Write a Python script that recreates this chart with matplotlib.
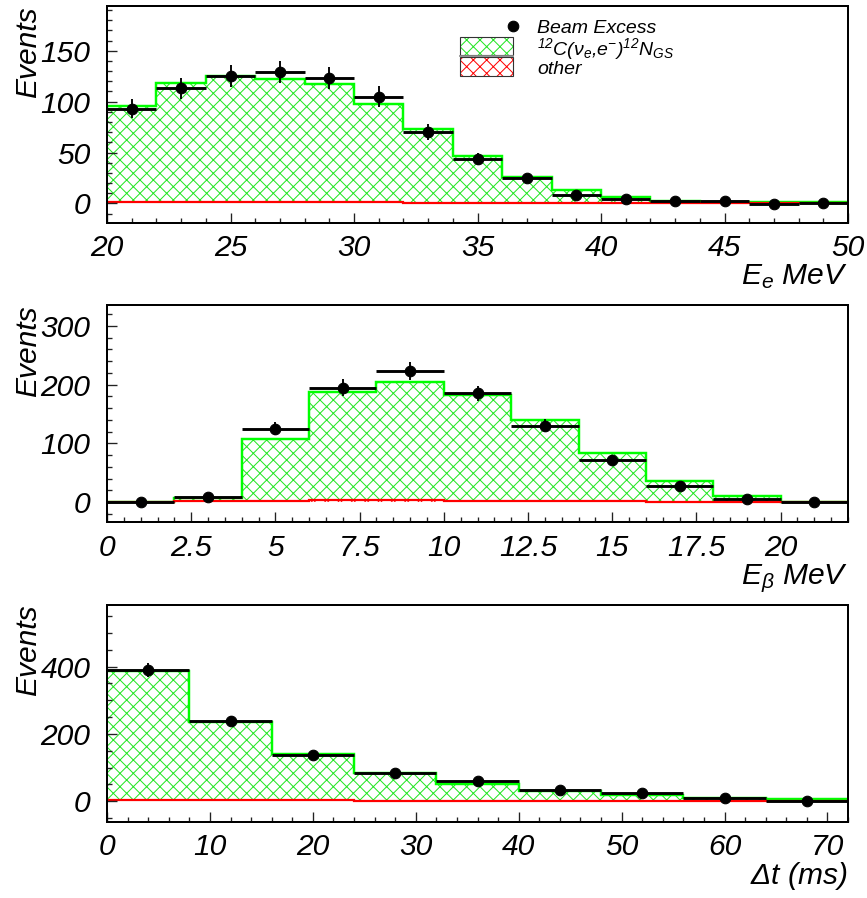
import numpy as np
import matplotlib
matplotlib.use("Agg")
import matplotlib.pyplot as plt
from matplotlib.patches import Rectangle
from matplotlib.ticker import MultipleLocator
from matplotlib.lines import Line2D

# ---------------- data ----------------
# Panel 1: E_e (MeV)
ee_edges = np.arange(20, 51, 2)
ee_data = [93, 113, 125, 129, 123, 105, 70, 44, 25, 8, 4, 2, 2, -1, 0]
ee_err = [9.5, 10, 11, 11, 11, 10, 8, 6, 4, 3, 2, 2, 2, 1.5, 1.5]
ee_total = [96, 118, 125, 122, 117, 98, 73, 47, 26, 13.5, 6, 2.6, 1.6, 1, 1]
ee_other = [1.5, 1.5, 1.5, 1.5, 1.2, 1.0, 0.8, 0.6, 0.5, 0.4, 0.3, 0.2, 0.2, 0.1, 0.1]

# Panel 2: E_beta (MeV)
eb_edges = np.arange(0, 23, 2)
eb_data = [0, 9, 125, 195, 223, 185, 130, 72, 27, 5, 0]
eb_err = [0, 4, 11, 14, 15, 13, 11, 8, 5, 3, 0]
eb_total = [0, 7, 107, 187, 205, 183, 139, 84, 35, 11, 0]
eb_other = [0, 1, 2, 3, 3, 2, 1, 1, 0.5, 0.5, 0]

# Panel 3: delta t (ms)
dt_edges = np.arange(0, 73, 8)
dt_data = [390, 238, 138, 83, 59, 32, 24, 10, 2]
dt_err = [20, 15, 12, 10, 9, 8, 7, 6, 5]
dt_total = [387, 236, 139, 83, 51, 29, 19, 9, 6]
dt_other = [3, 3, 3, 2, 2, 2, 1, 1, 1]

panels = [
    dict(edges=ee_edges, data=ee_data, err=ee_err, total=ee_total, other=ee_other,
         ylim=(-19, 194), xlim=(20, 50), xmaj=5, xmin=1, ymaj=50, ymin=10,
         xlabel=r'$E_e$ MeV', legend=True),
    dict(edges=eb_edges, data=eb_data, err=eb_err, total=eb_total, other=eb_other,
         ylim=(-34.6, 335.8), xlim=(0, 22), xmaj=2.5, xmin=0.5, ymaj=100, ymin=20,
         xlabel=r'$E_{\mathsf{\beta}}$ MeV', legend=False),
    dict(edges=dt_edges, data=dt_data, err=dt_err, total=dt_total, other=dt_other,
         ylim=(-61, 584), xlim=(0, 72), xmaj=10, xmin=2, ymaj=200, ymin=50,
         xlabel=r'$\mathsf{\Delta}$t (ms)', legend=False),
]

# ---------------- style ----------------
plt.rcParams['font.family'] = ['Liberation Sans', 'DejaVu Sans']
plt.rcParams['font.style'] = 'italic'
plt.rcParams['mathtext.fontset'] = 'custom'
plt.rcParams['mathtext.it'] = 'Liberation Sans:italic'
plt.rcParams['mathtext.rm'] = 'Liberation Sans:italic'
plt.rcParams['mathtext.sf'] = 'Liberation Sans'
plt.rcParams['mathtext.default'] = 'it'
plt.rcParams['hatch.linewidth'] = 0.9

GREEN = '#00ff00'
HGREEN = '#22e622'
RED = '#ff0000'

DPI = 80
W, H = 867, 898
fig = plt.figure(figsize=(W / DPI, H / DPI), dpi=DPI)

rects = [(107, 6, 848, 222.7), (107, 305, 848, 522.3), (107, 604.7, 848, 821.7)]

for p, (x0, y0, x1, y1) in zip(panels, rects):
    ax = fig.add_axes([x0 / W, 1 - y1 / H, (x1 - x0) / W, (y1 - y0) / H])
    edges = np.asarray(p['edges'], float)
    total = np.asarray(p['total'], float)
    other = np.asarray(p['other'], float)
    data = np.asarray(p['data'], float)
    err = np.asarray(p['err'], float)
    centers = 0.5 * (edges[:-1] + edges[1:])
    halfw = 0.5 * (edges[1:] - edges[:-1])

    # signal (green hatched) stacked on other (red hatched)
    ax.stairs(total, edges, baseline=other, fill=True, facecolor='none',
              edgecolor=HGREEN, hatch='xx', linewidth=0)
    ax.stairs(other, edges, baseline=0, fill=True, facecolor='none',
              edgecolor=RED, hatch='xx', linewidth=0)
    ax.stairs(total, edges, baseline=None, color=GREEN, linewidth=2.2)
    ax.stairs(other, edges, baseline=None, color=RED, linewidth=2.0)

    # data
    ax.errorbar(centers, data, xerr=halfw, fmt='none', ecolor='black',
                elinewidth=2.6, capsize=0, zorder=5)
    ax.errorbar(centers, data, yerr=err, fmt='o', color='black', ms=9.5,
                elinewidth=1.7, capsize=0, zorder=6)

    ax.set_xlim(*p['xlim'])
    ax.set_ylim(*p['ylim'])
    ax.xaxis.set_major_locator(MultipleLocator(p['xmaj']))
    ax.xaxis.set_minor_locator(MultipleLocator(p['xmin']))
    ax.yaxis.set_major_locator(MultipleLocator(p['ymaj']))
    ax.yaxis.set_minor_locator(MultipleLocator(p['ymin']))
    ax.tick_params(which='both', direction='in', top=False, right=False,
                   width=1.2, color='#222222')
    ax.tick_params(which='major', length=9)
    ax.tick_params(which='minor', length=4.5)
    ax.tick_params(axis='x', which='major', pad=10.5, labelsize=27)
    ax.tick_params(axis='y', which='major', pad=15, labelsize=27)
    ax.xaxis.set_major_formatter(matplotlib.ticker.FuncFormatter(
        lambda v, pos: ('%g' % v)))
    for s in ax.spines.values():
        s.set_linewidth(1.8)

    ax.set_ylabel('Events', fontsize=27, loc='top')
    ax.yaxis.set_label_coords(-0.088, 1.0)
    ax.text(1.0, -62 / (y1 - y0), p['xlabel'], transform=ax.transAxes,
            ha='right', va='baseline', fontsize=27)

    if p['legend']:
        h = y1 - y0
        w = x1 - x0
        fx = lambda px: (px - x0) / w
        fy = lambda py: 1 - (py - y0) / h
        # green box
        ax.add_patch(Rectangle((fx(460), fy(55)), fx(513) - fx(460), fy(37) - fy(55),
                               transform=ax.transAxes, facecolor='white',
                               edgecolor=HGREEN, hatch='xx', linewidth=0,
                               clip_on=False, zorder=7))
        ax.add_patch(Rectangle((fx(460), fy(55)), fx(513) - fx(460), fy(37) - fy(55),
                               transform=ax.transAxes, facecolor='none',
                               edgecolor='#333333', linewidth=1.0,
                               clip_on=False, zorder=8))
        ax.add_patch(Rectangle((fx(460), fy(75.7)), fx(513) - fx(460), fy(56.7) - fy(75.7),
                               transform=ax.transAxes, facecolor='white',
                               edgecolor=RED, hatch='xx', linewidth=0,
                               clip_on=False, zorder=7))
        ax.add_patch(Rectangle((fx(460), fy(75.7)), fx(513) - fx(460), fy(56.7) - fy(75.7),
                               transform=ax.transAxes, facecolor='none',
                               edgecolor='#333333', linewidth=1.0,
                               clip_on=False, zorder=8))
        ax.add_line(Line2D([fx(460), fx(513)], [fy(55.9), fy(55.9)],
                           transform=ax.transAxes, color='#888888', linewidth=1.6,
                           zorder=8))
        ax.add_line(Line2D([fx(513)], [fy(26)], transform=ax.transAxes,
                           marker='o', color='black', ms=9.5, linestyle='none',
                           zorder=8))
        ax.text(fx(537), fy(33.3), 'Beam Excess', transform=ax.transAxes,
                fontsize=17.5, va='baseline', ha='left', zorder=9)
        ax.text(fx(537), fy(55), r'$^{12}$C($\nu_e$,e$^{-}$)$^{12}$N$_{GS}$',
                transform=ax.transAxes, fontsize=17.5, va='baseline', ha='left', zorder=9)
        ax.text(fx(537), fy(73.5), 'other', transform=ax.transAxes,
                fontsize=17.5, va='baseline', ha='left', zorder=9)

fig.savefig('out.png', dpi=DPI)
